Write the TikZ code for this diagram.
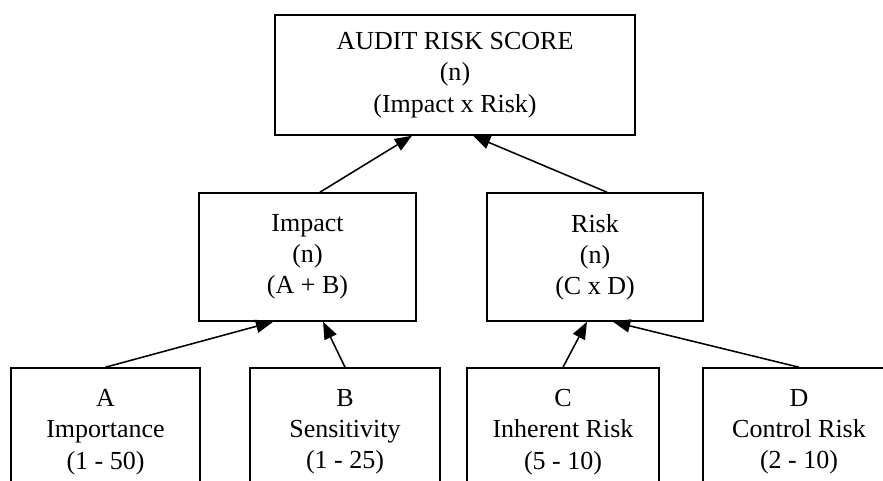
\documentclass[tikz,border=0pt]{standalone}
\usepackage{fontspec}
\setmainfont{Liberation Serif}
\usetikzlibrary{arrows.meta}

\begin{document}
\begin{tikzpicture}[x=1cm,y=1cm,
    box/.style={draw=black,line width=1.1pt,align=center,inner sep=0pt,
      font=\fontsize{18.5}{22.2}\selectfont},
    arr/.style={line width=1.1pt,-{Triangle[length=0.43cm,width=0.33cm]}}]
  \useasboundingbox (0,0) rectangle (22.075,12);
  \clip (0,0) rectangle (22.075,12);

  % Верхній рівень.
  \node[box,minimum width=9cm,minimum height=3cm] (score) at (11.375,10.125)
    {AUDIT RISK SCORE\\(n)\\(Impact x Risk)};

  % Середній рівень.
  \node[box,minimum width=5.425cm,minimum height=3.2cm] (impact) at (7.6875,5.575)
    {Impact\\(n)\\(A + B)};
  \node[box,minimum width=5.4cm,minimum height=3.2cm] (risk) at (14.875,5.575)
    {Risk\\(n)\\(C x D)};

  % Нижній рівень.
  \node[box,minimum width=4.725cm,minimum height=3.2cm] (imp) at (2.6375,1.2)
    {A\\Importance\\(1 - 50)};
  \node[box,minimum width=4.75cm,minimum height=3.2cm] (sens) at (8.625,1.2)
    {B\\Sensitivity\\(1 - 25)};
  \node[box,minimum width=4.8cm,minimum height=3.2cm] (inh) at (14.075,1.2)
    {C\\Inherent Risk\\(5 - 10)};
  \node[box,minimum width=4.8cm,minimum height=3.2cm] (ctrl) at (19.975,1.2)
    {D\\Control Risk\\(2 - 10)};

  \draw[arr] ([xshift=0.31cm]impact.north) -- ([xshift=-1.075cm]score.south);
  \draw[arr] ([xshift=0.3cm]risk.north) -- ([xshift=0.45cm]score.south);
  \draw[arr] (imp.north) -- ([xshift=-0.86cm]impact.south);
  \draw[arr] (sens.north) -- ([xshift=0.39cm]impact.south);
  \draw[arr] (inh.north) -- ([xshift=-0.2cm]risk.south);
  \draw[arr] (ctrl.north) -- ([xshift=0.45cm]risk.south);
\end{tikzpicture}
\end{document}
